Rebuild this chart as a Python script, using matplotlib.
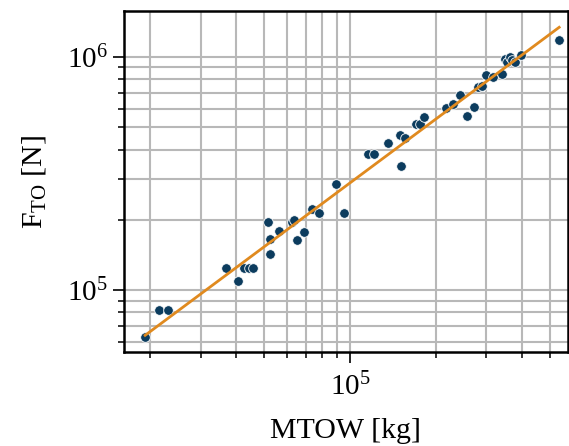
import numpy as np
import matplotlib
matplotlib.use("Agg")
import matplotlib.pyplot as plt
from matplotlib.ticker import NullFormatter

plt.rcParams['font.family'] = ['Liberation Serif', 'DejaVu Serif']
plt.rcParams['mathtext.fontset'] = 'custom'
plt.rcParams['mathtext.rm'] = 'Liberation Serif'
plt.rcParams['mathtext.it'] = 'Liberation Serif:italic'

# aircraft data
mtow = [19200, 21540, 23160, 36770, 40690, 42610, 44180, 45800,
        51800, 52520, 52520, 56450, 62700, 63870, 65120, 69210,
        73480, 77920, 88990, 94910, 115600, 121600, 136000, 149600,
        150800, 155700, 170100, 175300, 181500, 216600, 229700, 242400,
        256500, 270700, 280300, 288700, 299700, 315700, 340100, 348300,
        354000, 362600, 370000, 377600, 394700, 538900]
thrust = [62580, 81900, 81900, 123600, 109100, 124200, 124200, 124200,
          195300, 164600, 142400, 178500, 195600, 199500, 163800, 178000,
          222500, 213800, 283900, 213800, 382800, 382800, 427900, 463300,
          339000, 449600, 515800, 515800, 549800, 602800, 625200, 686600,
          556900, 607000, 740000, 748700, 838900, 822500, 843000, 974700,
          951900, 994000, 967900, 951900, 1017000, 1179000]

x = np.array(mtow, dtype=float)
y = np.array(thrust, dtype=float)
b, a = np.polyfit(np.log10(x), np.log10(y), 1)
xfit = np.array([x.min(), x.max()])
yfit = 10 ** a * xfit ** b

fig = plt.figure(figsize=(5.69, 4.46), dpi=100)
ax = fig.add_axes([0.218, 0.211, 0.780, 0.764])

ax.scatter(x, y, s=48, color='#0c3c5e', edgecolors='white', linewidths=0.6, zorder=3)
ax.plot(xfit, yfit, color='#e08a1f', lw=2.0, zorder=4)

ax.set_xscale('log')
ax.set_yscale('log')
ax.set_xlim(16200, 578000)
ax.set_ylim(54200, 1.57e6)
ax.xaxis.set_minor_formatter(NullFormatter())
ax.yaxis.set_minor_formatter(NullFormatter())

ax.grid(True, which='both', color='#b8b8b8', lw=1.5)
ax.set_axisbelow(True)
for s in ax.spines.values():
    s.set_linewidth(1.8)
ax.tick_params(which='major', length=8, width=1.2, labelsize=21)
ax.tick_params(axis='x', which='major', pad=7)
ax.tick_params(which='minor', length=4.5, width=1.1)

ax.set_xlabel('MTOW [kg]', fontsize=21.5, labelpad=12)
ax.set_ylabel(r'$\mathrm{F}_{\mathrm{TO}}$ [N]', fontsize=21.5, labelpad=14)

fig.savefig('out.png', dpi=100)
